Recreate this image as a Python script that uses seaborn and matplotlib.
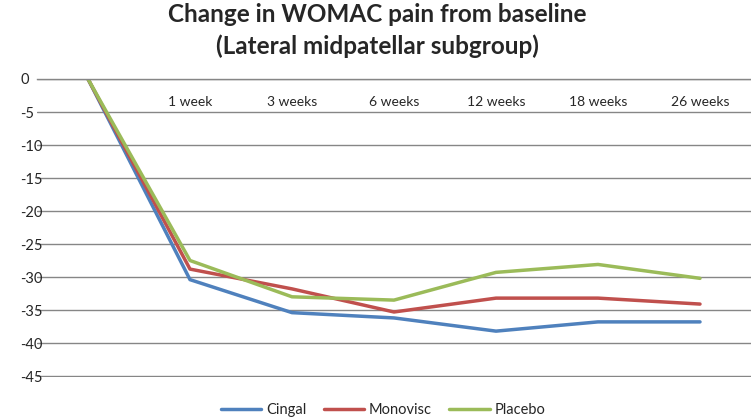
import pandas as pd
import matplotlib
matplotlib.use("Agg")
import matplotlib.pyplot as plt
import seaborn as sns

timepoints = ["Baseline", "1 week", "3 weeks", "6 weeks", "12 weeks", "18 weeks", "26 weeks"]
tick_labels = ["", "1 week", "3 weeks", "6 weeks", "12 weeks", "18 weeks", "26 weeks"]
groups = ["Cingal", "Monovisc", "Placebo"]
cingal = [0, -30.4, -35.4, -36.2, -38.2, -36.8, -36.8]
monovisc = [0, -28.8, -31.8, -35.3, -33.2, -33.2, -34.1]
placebo = [0, -27.5, -33.0, -33.5, -29.3, -28.1, -30.2]
colors = ["#4F81BD", "#C0504D", "#9BBB59"]

rows = []
for name, vals in zip(groups, [cingal, monovisc, placebo]):
    for t, v in zip(timepoints, vals):
        rows.append({"time": t, "change": v, "group": name})
df = pd.DataFrame(rows)

sns.set_style("white")
plt.rcParams["font.family"] = ["Lato", "DejaVu Sans"]
plt.rcParams["axes.unicode_minus"] = False

fig = plt.figure(figsize=(7.51, 4.18), dpi=100)
ax = fig.add_axes([37 / 751, 41 / 418, 1 - 37 / 751, 298 / 418])

sns.lineplot(data=df, x="time", y="change", hue="group", palette=colors,
             sort=False, linewidth=2.5, ax=ax)

ax.set_xlim(-0.5, len(timepoints) - 0.5)
ax.set_ylim(-45.15, 0)
ax.set_yticks(range(-45, 1, 5))
ax.yaxis.grid(True, color="#868686", linewidth=1)
ax.set_axisbelow(True)
ax.xaxis.tick_top()
ax.set_xticks(range(len(timepoints)))
ax.set_xticklabels(tick_labels)
ax.tick_params(axis="x", length=0, pad=-21, labelsize=10)
ax.tick_params(axis="y", length=0, pad=12, labelsize=10.5)
for lab in ax.get_yticklabels():
    lab.set_horizontalalignment("left")
ax.set_xlabel("")
ax.set_ylabel("")
for sp in ["left", "right", "bottom"]:
    ax.spines[sp].set_visible(False)
ax.spines["top"].set_color("#868686")
ax.spines["top"].set_linewidth(1)

fig.suptitle("Change in WOMAC pain from baseline\n(Lateral midpatellar subgroup)",
             fontsize=17.5, fontweight="bold", y=0.993, va="top", x=0.502, linespacing=1.45)

ax.legend(loc="lower center", bbox_to_anchor=(0.51, -0.03), bbox_transform=fig.transFigure,
          ncol=3, frameon=False, fontsize=10.5, handlelength=2.8, columnspacing=1.2,
          handletextpad=0.3, title=None)

fig.savefig("out.png", dpi=100)
